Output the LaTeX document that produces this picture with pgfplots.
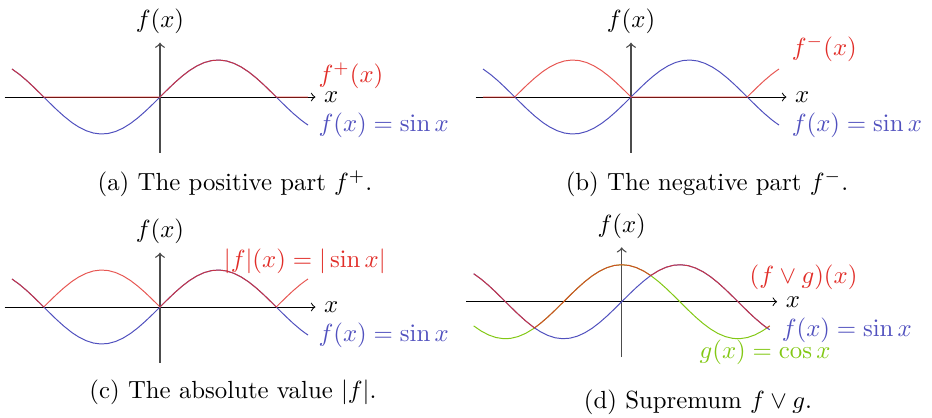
\documentclass[border=0pt]{standalone}
\usepackage{pgfplots}
\pgfplotsset{compat=1.18}
\usepackage{pgfplotstable}

\definecolor{cRed}{RGB}{225,45,40}
\definecolor{cBlue}{RGB}{80,80,190}
\definecolor{cGreen}{RGB}{130,200,20}

% x, sin x, cos x, positive part, negative part, |sin x|, max(sin x, cos x)
% extra rows at the kinks: +-pi, -3pi/4, pi/4, 5pi/4
\pgfplotstableread{
x       s        c        p       m       a       v
-4.0    0.7568  -0.6536   0.7568  0       0.7568  0.7568
-3.8    0.6119  -0.7910   0.6119  0       0.6119  0.6119
-3.6    0.4425  -0.8968   0.4425  0       0.4425  0.4425
-3.4    0.2555  -0.9668   0.2555  0       0.2555  0.2555
-3.2    0.0584  -0.9983   0.0584  0       0.0584  0.0584
-3.1416 0       -1        0       0       0       0
-3.0   -0.1411  -0.9900   0       0.1411  0.1411 -0.1411
-2.8   -0.3350  -0.9422   0       0.3350  0.3350 -0.3350
-2.6   -0.5155  -0.8569   0       0.5155  0.5155 -0.5155
-2.4   -0.6755  -0.7374   0       0.6755  0.6755 -0.6755
-2.3562 -0.7071 -0.7071   0       0.7071  0.7071 -0.7071
-2.2   -0.8085  -0.5885   0       0.8085  0.8085 -0.5885
-2.0   -0.9093  -0.4161   0       0.9093  0.9093 -0.4161
-1.8   -0.9738  -0.2272   0       0.9738  0.9738 -0.2272
-1.6   -0.9996  -0.0292   0       0.9996  0.9996 -0.0292
-1.4   -0.9854   0.1700   0       0.9854  0.9854  0.1700
-1.2   -0.9320   0.3624   0       0.9320  0.9320  0.3624
-1.0   -0.8415   0.5403   0       0.8415  0.8415  0.5403
-0.8   -0.7174   0.6967   0       0.7174  0.7174  0.6967
-0.6   -0.5646   0.8253   0       0.5646  0.5646  0.8253
-0.4   -0.3894   0.9211   0       0.3894  0.3894  0.9211
-0.2   -0.1987   0.9801   0       0.1987  0.1987  0.9801
0.0     0        1        0       0       0       1
0.2     0.1987   0.9801   0.1987  0       0.1987  0.9801
0.4     0.3894   0.9211   0.3894  0       0.3894  0.9211
0.6     0.5646   0.8253   0.5646  0       0.5646  0.8253
0.7854  0.7071   0.7071   0.7071  0       0.7071  0.7071
0.8     0.7174   0.6967   0.7174  0       0.7174  0.7174
1.0     0.8415   0.5403   0.8415  0       0.8415  0.8415
1.2     0.9320   0.3624   0.9320  0       0.9320  0.9320
1.4     0.9854   0.1700   0.9854  0       0.9854  0.9854
1.6     0.9996  -0.0292   0.9996  0       0.9996  0.9996
1.8     0.9738  -0.2272   0.9738  0       0.9738  0.9738
2.0     0.9093  -0.4161   0.9093  0       0.9093  0.9093
2.2     0.8085  -0.5885   0.8085  0       0.8085  0.8085
2.4     0.6755  -0.7374   0.6755  0       0.6755  0.6755
2.6     0.5155  -0.8569   0.5155  0       0.5155  0.5155
2.8     0.3350  -0.9422   0.3350  0       0.3350  0.3350
3.0     0.1411  -0.9900   0.1411  0       0.1411  0.1411
3.1416  0       -1        0       0       0       0
3.2    -0.0584  -0.9983   0       0.0584  0.0584 -0.0584
3.4    -0.2555  -0.9668   0       0.2555  0.2555 -0.2555
3.6    -0.4425  -0.8968   0       0.4425  0.4425 -0.4425
3.8    -0.6119  -0.7910   0       0.6119  0.6119 -0.6119
3.9270 -0.7071  -0.7071   0       0.7071  0.7071 -0.7071
4.0    -0.7568  -0.6536   0       0.7568  0.7568 -0.6536
}\trig

\pgfplotsset{
  lattice/.style={
    anchor=origin,
    x=14.918pt, y=14.918pt,
    xmin=-4.2, xmax=4.2, ymin=-1.5, ymax=1.47,
    axis lines=middle,
    xtick=\empty, ytick=\empty,
    x axis line style={->, black, thin},
    y axis line style={->, black!70, line width=0.55pt},
    clip=false,
  },
  sup/.style={cRed, thin, opacity=0.8},
  base/.style={cBlue, thin},
}

\newcommand{\axislabels}{%
  \node[anchor=west] at (axis cs:4.2,0) {$x$};
  \node[anchor=south] at (axis cs:0,1.47) {$f(x)$};
}

\begin{document}
\begin{tikzpicture}[x=0.4032pt, y=0.4032pt]
\path[use as bounding box] (0,0) rectangle (932,-417);

% (a) positive part
\begin{axis}[lattice, at={(64.51pt,-39.11pt)}]
  \axislabels
  \addplot[base] table[x=x, y=s] {\trig};
  \addplot[sup] table[x=x, y=p] {\trig};
  \node[anchor=west, text=cRed] at (axis cs:4.05,0.57) {$f^+(x)$};
  \node[anchor=west, text=cBlue] at (axis cs:4.05,-0.76) {$f(x) = \sin x$};
\end{axis}
\node at (235,-184) {(a) The positive part $f^+$.};

% (b) negative part
\begin{axis}[lattice, at={(254.42pt,-39.11pt)}]
  \axislabels
  \addplot[base] table[x=x, y=s] {\trig};
  \addplot[sup] table[x=x, y=m] {\trig};
  \node[anchor=west, text=cRed] at (axis cs:4.11,1.30) {$f^-(x)$};
  \node[anchor=west, text=cBlue] at (axis cs:4.11,-0.76) {$f(x) = \sin x$};
\end{axis}
\node at (707,-184) {(b) The negative part $f^-$.};

% (c) absolute value
\begin{axis}[lattice, at={(64.51pt,-123.78pt)}]
  \axislabels
  \addplot[base] table[x=x, y=s] {\trig};
  \addplot[sup] table[x=x, y=a] {\trig};
  \node[anchor=west, text=cRed] at (axis cs:1.49,1.24) {$|f|(x) = |\sin x|$};
  \node[anchor=west, text=cBlue] at (axis cs:4.05,-0.76) {$f(x) = \sin x$};
\end{axis}
\node at (233,-392) {(c) The absolute value $|f|$.};

% (d) supremum of sin and cos
\begin{axis}[lattice, at={(250.67pt,-121.65pt)}]
  \axislabels
  \addplot[cGreen, thin] table[x=x, y=c] {\trig};
  \addplot[base] table[x=x, y=s] {\trig};
  \addplot[sup] table[x=x, y=v] {\trig};
  \node[anchor=west, text=cRed] at (axis cs:3.22,0.65) {$(f \vee g)(x)$};
  \node[anchor=west, text=cGreen] at (axis cs:1.87,-1.36) {$g(x) = \cos x$};
  \node[anchor=west, text=cBlue] at (axis cs:4.09,-0.76) {$f(x) = \sin x$};
\end{axis}
\node at (698,-402) {(d) Supremum $f \vee g$.};
\end{tikzpicture}
\end{document}
